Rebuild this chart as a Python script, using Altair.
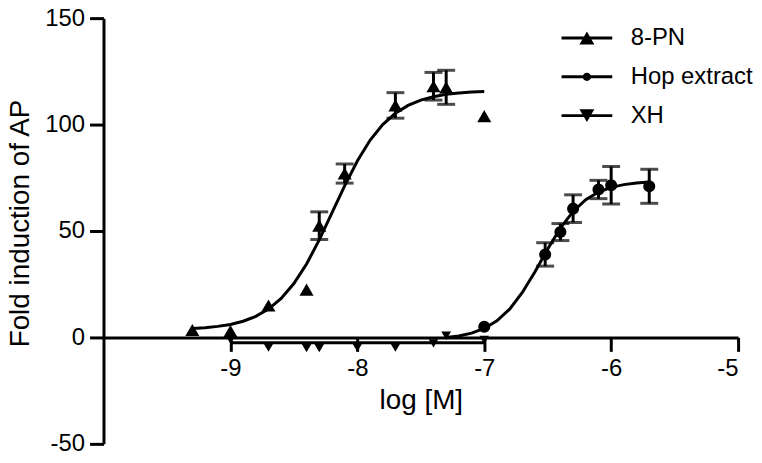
import altair as alt
import pandas as pd

FONT = "Liberation Sans"
series_names = ["8-PN", "Hop extract", "XH"]

# measured points
pn_x = [-9.3, -9.0, -8.7, -8.4, -8.3, -8.1, -7.7, -7.4, -7.3, -7.0]
pn_y = [3.5, 3.0, 15.0, 22.5, 52.5, 77.0, 109.0, 118.0, 117.5, 104.0]
pn_err = [0, 0, 0, 0, 6.5, 4.5, 6.0, 6.5, 8.0, 0]

hop_x = [-7.0, -6.52, -6.4, -6.3, -6.1, -6.0, -5.7]
hop_y = [5.0, 39.0, 49.5, 60.5, 69.5, 71.5, 71.0]
hop_err = [0, 5.5, 4.0, 6.5, 4.3, 8.8, 8.0]

xh_x = [-9.0, -8.7, -8.4, -8.3, -8.0, -7.7, -7.4, -7.3, -7.0]
xh_y = [-1.0, -4.8, -5.0, -5.0, -4.8, -4.8, -2.8, 0.8, -1.2]
xh_err = [0, 0, 0, 0, 0, 0, 0, 0, 0]

# fitted curves
pn_curve_x = [-9.3, -9.2, -9.1, -9.0, -8.9, -8.8, -8.7, -8.6, -8.5, -8.4, -8.3, -8.2,
              -8.1, -8.0, -7.9, -7.8, -7.7, -7.6, -7.5, -7.4, -7.3, -7.2, -7.1, -7.0]
pn_curve_y = [4.2, 4.6, 5.2, 6.1, 7.6, 9.9, 13.3, 18.3, 25.3, 34.5, 45.8, 58.5,
              71.2, 82.9, 92.6, 100.0, 105.3, 109.0, 111.5, 113.1, 114.2, 114.8, 115.3, 115.5]
hop_curve_x = [-7.3, -7.2, -7.1, -7.0, -6.9, -6.8, -6.7, -6.6, -6.5, -6.4, -6.3, -6.2,
               -6.1, -6.0, -5.9, -5.8, -5.7]
hop_curve_y = [0.0, 0.7, 2.0, 4.2, 7.8, 13.3, 21.1, 30.9, 41.6, 51.4, 59.2, 64.7,
               68.3, 70.5, 71.8, 72.5, 73.0]
xh_curve_x = [-9.0, -7.0]
xh_curve_y = [-2.5, -2.5]

x_ticks = [-9, -8, -7, -6, -5]
y_ticks = [-50, 0, 50, 100, 150]

pts = pd.concat([
    pd.DataFrame({"x": pn_x, "y": pn_y, "err": pn_err, "series": series_names[0]}),
    pd.DataFrame({"x": hop_x, "y": hop_y, "err": hop_err, "series": series_names[1]}),
    pd.DataFrame({"x": xh_x, "y": xh_y, "err": xh_err, "series": series_names[2]}),
], ignore_index=True)
pts["lo"] = pts["y"] - pts["err"]
pts["hi"] = pts["y"] + pts["err"]
errs = pts[pts["err"] > 0]

curves = pd.concat([
    pd.DataFrame({"x": pn_curve_x, "y": pn_curve_y, "series": series_names[0]}),
    pd.DataFrame({"x": hop_curve_x, "y": hop_curve_y, "series": series_names[1]}),
    pd.DataFrame({"x": xh_curve_x, "y": xh_curve_y, "series": series_names[2]}),
], ignore_index=True)

legend_df = pd.DataFrame({"series": series_names, "x": [-11.0] * 3, "y": [0.0] * 3})

xs = alt.Scale(domain=[-10, -5], nice=False, zero=False)
ys = alt.Scale(domain=[-50, 150], nice=False, zero=False)

x_axis = alt.Axis(values=x_ticks, offset=-107, title="log [M]",
                  labelExpr="'' + datum.value", labelPadding=5, titlePadding=6)
y_axis = alt.Axis(values=y_ticks, title="Fold induction of AP",
                  labelExpr="'' + datum.value", labelPadding=5, titlePadding=10,
                  titleY=206)

X = alt.X("x:Q", scale=xs, axis=x_axis)
Y = alt.Y("y:Q", scale=ys, axis=y_axis)

lines = alt.Chart(curves).mark_line(color="black", strokeWidth=3).encode(
    x=X, y=Y, detail="series:N", order="x:Q")

rules = alt.Chart(errs).mark_rule(color="black", strokeWidth=3).encode(
    x="x:Q", y="lo:Q", y2="hi:Q")
cap_lo = alt.Chart(errs).mark_tick(color="black", orient="horizontal", size=18, thickness=3).encode(
    x="x:Q", y="lo:Q")
cap_hi = alt.Chart(errs).mark_tick(color="black", orient="horizontal", size=18, thickness=3).encode(
    x="x:Q", y="hi:Q")

points = alt.Chart(pts).mark_point(filled=True, color="black", opacity=1).encode(
    x="x:Q", y="y:Q",
    shape=alt.Shape("series:N", scale=alt.Scale(domain=series_names,
                    range=["triangle-up", "circle", "triangle-down"]), legend=None),
    size=alt.Size("series:N", scale=alt.Scale(domain=series_names, range=[200, 95, 280]), legend=None),
)

bar = "M-2.55,-0.15H2.55V0.15H-2.55Z "
legend_paths = [
    bar + "M0,-0.65L0.75,0.65L-0.75,0.65Z",
    bar + "M0.42,0A0.42,0.42 0 1,1 -0.42,0A0.42,0.42 0 1,1 0.42,0Z",
    bar + "M0,0.65L-0.75,-0.65L0.75,-0.65Z",
]
legend_layer = alt.Chart(legend_df).mark_point(filled=True, color="black", clip=True, opacity=1).encode(
    x="x:Q", y="y:Q",
    shape=alt.Shape("series:N", scale=alt.Scale(domain=series_names, range=legend_paths),
                    legend=alt.Legend(title=None, orient="none", legendX=474, legendY=8,
                                      symbolSize=400, symbolFillColor="black",
                                      symbolStrokeWidth=0, labelFontSize=24, labelFont=FONT,
                                      labelColor="black", labelOffset=32, rowPadding=15,
                                      padding=0, symbolOpacity=1)),
)

chart = alt.layer(lines, rules, cap_lo, cap_hi, points, legend_layer).resolve_scale(
    shape="independent", size="independent"
).properties(
    width=638, height=428,
    autosize=alt.AutoSizeParams(type="none"),
    padding={"left": 96, "top": 9, "right": 16, "bottom": 10},
    background="white",
).configure_view(stroke=None).configure_axis(
    domainColor="black", domainWidth=3, tickColor="black", tickWidth=3, tickSize=14,
    labelFontSize=24, labelFont=FONT, labelColor="black",
    titleFontSize=28, titleFont=FONT, titleColor="black", titleFontWeight="normal",
    grid=False,
)

chart.save("out.html", embed_options={"renderer": "svg", "actions": False})
